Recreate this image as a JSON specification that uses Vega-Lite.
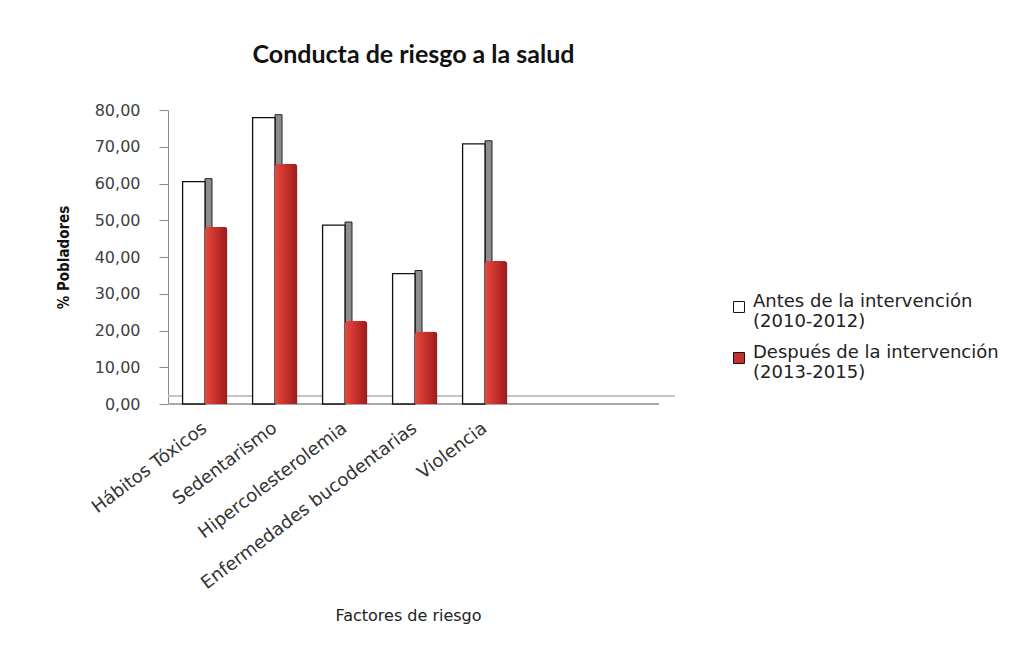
{
  "$schema": "https://vega.github.io/schema/vega-lite/v6.json",
  "autosize": "none",
  "width": 491,
  "height": 294,
  "padding": {"left": 168, "top": 110, "right": 367, "bottom": 242},
  "background": "white",
  "config": {
    "view": {"stroke": null},
    "locale": {"number": {"decimal": ",", "thousands": ".", "grouping": [3], "currency": ["", " €"]}}
  },
  "title": {
    "text": "Conducta de riesgo a la salud",
    "font": "Lato",
    "fontSize": 25,
    "fontWeight": "bold",
    "color": "#111111",
    "anchor": "middle",
    "baseline": "alphabetic",
    "offset": 14
  },
  "data": {
    "values": [
      {"factor": "Hábitos Tóxicos", "serie": "Antes de la intervención (2010-2012)", "valor": 60.5},
      {"factor": "Hábitos Tóxicos", "serie": "Después de la intervención (2013-2015)", "valor": 48.2},
      {"factor": "Sedentarismo", "serie": "Antes de la intervención (2010-2012)", "valor": 77.9},
      {"factor": "Sedentarismo", "serie": "Después de la intervención (2013-2015)", "valor": 65.4},
      {"factor": "Hipercolesterolemia", "serie": "Antes de la intervención (2010-2012)", "valor": 48.7},
      {"factor": "Hipercolesterolemia", "serie": "Después de la intervención (2013-2015)", "valor": 22.6},
      {"factor": "Enfermedades bucodentarias", "serie": "Antes de la intervención (2010-2012)", "valor": 35.5},
      {"factor": "Enfermedades bucodentarias", "serie": "Después de la intervención (2013-2015)", "valor": 19.7},
      {"factor": "Violencia", "serie": "Antes de la intervención (2010-2012)", "valor": 70.8},
      {"factor": "Violencia", "serie": "Después de la intervención (2013-2015)", "valor": 38.9}
    ]
  },
  "encoding": {
    "x": {
      "field": "factor",
      "type": "nominal",
      "sort": null,
      "scale": {"range": [2, 352], "paddingInner": 0.36, "paddingOuter": 0.18},
      "axis": {
        "title": "Factores de riesgo",
        "titleFont": "DejaVu Sans",
        "titleFontSize": 16,
        "titleFontWeight": "normal",
        "titleColor": "#222222",
        "titleX": 240,
        "titlePadding": 15,
        "labelFont": "DejaVu Sans",
        "labelFontSize": 18,
        "labelColor": "#333333",
        "labelAngle": -37,
        "labelAlign": "right",
        "labelBaseline": "middle",
        "labelPadding": 22,
        "labelLimit": 400,
        "ticks": false,
        "domain": false
      }
    },
    "y": {
      "field": "valor",
      "type": "quantitative",
      "scale": {"domain": [0, 80], "nice": false},
      "axis": {
        "title": "% Pobladores",
        "titleFont": "DejaVu Sans Condensed",
        "titleFontSize": 15,
        "titleFontWeight": "bold",
        "titleColor": "#111111",
        "titlePadding": 23,
        "values": [0, 10, 20, 30, 40, 50, 60, 70, 80],
        "format": ".2f",
        "labelFont": "DejaVu Sans",
        "labelFontSize": 16,
        "labelColor": "#404040",
        "labelPadding": 19,
        "tickSize": 9,
        "tickColor": "#8a8a8a",
        "domainColor": "#8a8a8a",
        "grid": false
      }
    }
  },
  "layer": [
    {
      "mark": {"type": "rule", "color": "#a8a8a8", "strokeWidth": 1.5},
      "encoding": {"y": {"datum": 0}, "x": {}}
    },
    {
      "mark": {"type": "rule", "color": "#c4c4c4", "strokeWidth": 1.2, "yOffset": -8, "xOffset": 16, "x2Offset": 16},
      "encoding": {"y": {"datum": 0}, "x": {}}
    },
    {
      "transform": [{"filter": "datum.serie == 'Antes de la intervención (2010-2012)'"}],
      "mark": {"type": "bar", "width": 7, "xOffset": 3.5, "yOffset": -3, "fill": "#8c8c8c", "stroke": "#222222", "strokeWidth": 1}
    },
    {
      "transform": [{"filter": "datum.serie == 'Antes de la intervención (2010-2012)'"}],
      "mark": {"type": "bar", "stroke": "#111111", "strokeWidth": 1.3},
      "encoding": {
        "xOffset": {"field": "serie", "type": "nominal", "scale": {"domain": ["Antes de la intervención (2010-2012)", "Después de la intervención (2013-2015)"]}},
        "color": {
          "field": "serie",
          "type": "nominal",
          "scale": {"domain": ["Antes de la intervención (2010-2012)", "Después de la intervención (2013-2015)"], "range": ["#ffffff", "#c8302c"]},
          "legend": {
            "title": null,
            "orient": "none",
            "legendX": 562,
            "legendY": 188,
            "symbolType": "square",
            "symbolSize": 120,
            "symbolStrokeWidth": 1,
            "labelFont": "DejaVu Sans",
            "labelFontSize": 18,
            "labelLineHeight": 22,
            "labelColor": "#222222",
            "labelLimit": 400,
            "labelBaseline": "alphabetic",
            "labelOffset": 5,
            "rowPadding": 13,
            "labelExpr": "datum.label == 'Antes de la intervención (2010-2012)' ? ['Antes de la intervención', '(2010-2012)'] : ['Después de la intervención', '(2013-2015)']",
            "encode": {
              "symbols": {"update": {"stroke": {"signal": "datum.value == 'Antes de la intervención (2010-2012)' ? '#111111' : '#8b1a1a'"}}}
            }
          }
        }
      }
    },
    {
      "transform": [{"filter": "datum.serie == 'Después de la intervención (2013-2015)'"}],
      "mark": {"type": "bar", "cornerRadiusTopLeft": 3, "cornerRadiusTopRight": 3},
      "encoding": {
        "xOffset": {"field": "serie", "type": "nominal"},
        "color": {"field": "serie", "type": "nominal"},
        "fill": {"value": {"gradient": "linear", "x1": 0, "y1": 0, "x2": 1, "y2": 0, "stops": [{"offset": 0, "color": "#e2493f"}, {"offset": 0.45, "color": "#cc322c"}, {"offset": 1, "color": "#9a1b1b"}]}}
      }
    }
  ]
}
